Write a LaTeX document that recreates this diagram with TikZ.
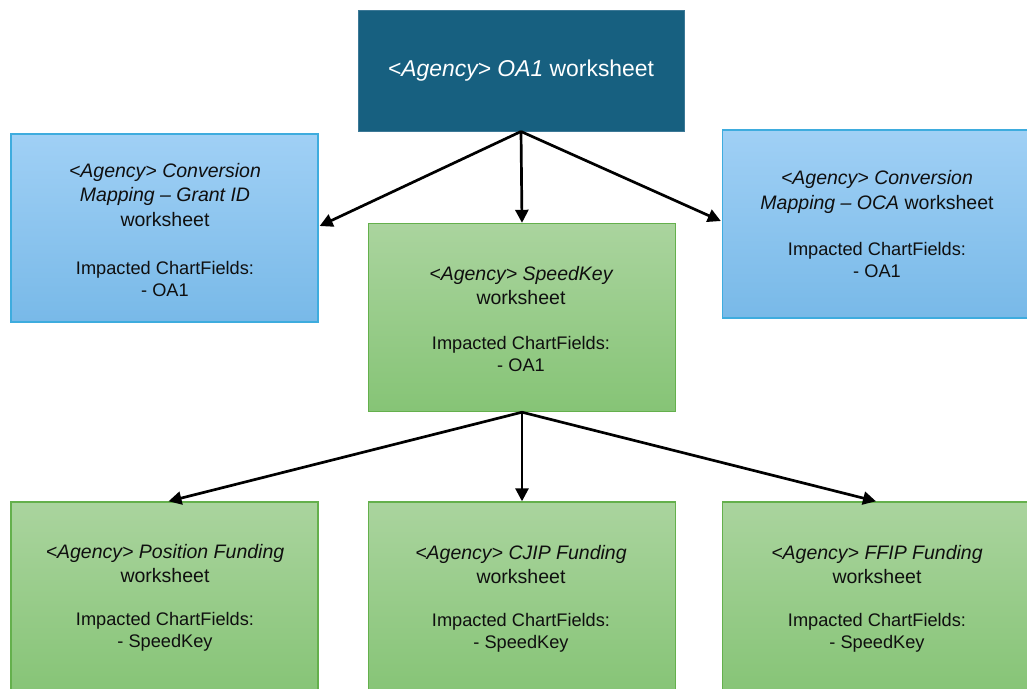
\documentclass[tikz,border=0pt]{standalone}
\usepackage{fontspec}
\setmainfont{Liberation Sans}
\usetikzlibrary{arrows.meta}
\definecolor{topfill}{RGB}{23,96,128}
\definecolor{topdraw}{RGB}{60,120,150}
\definecolor{bluetop}{RGB}{160,208,245}
\definecolor{bluebot}{RGB}{120,185,232}
\definecolor{bluedraw}{RGB}{62,172,222}
\definecolor{greentop}{RGB}{170,212,158}
\definecolor{greenbot}{RGB}{134,196,118}
\definecolor{greendraw}{RGB}{100,176,76}
\definecolor{txt}{RGB}{15,15,15}
\tikzset{
  topbox/.style={draw=topdraw, line width=1pt, fill=topfill, minimum width=326, minimum height=121, inner sep=0},
  bluebox/.style={draw=bluedraw, line width=1.4pt, top color=bluetop, bottom color=bluebot, minimum width=307, minimum height=188, inner sep=0},
  greenbox/.style={draw=greendraw, line width=1.4pt, top color=greentop, bottom color=greenbot, minimum width=307, minimum height=188, inner sep=0},
  titletext/.style={align=center, inner sep=0, text=txt, font=\fontsize{19.5}{24.5}\selectfont},
  imptext/.style={align=center, inner sep=0, text=txt, font=\fontsize{18.2}{22}\selectfont},
  conn/.style={line width=2.7pt, -{Triangle[length=13, width=13]}}
}
\begin{document}
\begin{tikzpicture}[x=1pt, y=-1pt]
\useasboundingbox (0,0) rectangle (1027,688);
% boxes
\node[topbox] (top) at (521,70.5) {};
\node[bluebox] (lb) at (164.5,228) {};
\node[bluebox] (rb) at (876,224) {};
\node[greenbox] (mg) at (522,317.5) {};
\node[greenbox, minimum height=192] (bl) at (164.5,598) {};
\node[greenbox, minimum height=192] (bm) at (522,598) {};
\node[greenbox, minimum height=192] (br) at (876,598) {};
% texts
\node[inner sep=0, text=white, font=\fontsize{22.9}{27}\selectfont] (toptxt) at (521,71) {\itshape <Agency> OA1\upshape{} worksheet};
\node[titletext] (lbt) at (165,195) {\itshape <Agency> Conversion\\ \itshape Mapping -- Grant ID\\ worksheet};
\node[imptext] (lbi) at (165,279) {Impacted ChartFields:\\- OA1};
\node[titletext] (rbt) at (877,192) {\itshape <Agency> Conversion\\ \itshape Mapping -- OCA\upshape{} worksheet};
\node[imptext] (rbi) at (877,259.5) {Impacted ChartFields:\\- OA1};
\node[titletext] (mgt) at (521,285.5) {\itshape <Agency> SpeedKey\\ worksheet};
\node[imptext] (mgi) at (521,354) {Impacted ChartFields:\\- OA1};
\node[titletext] (blt) at (165,563.5) {\itshape <Agency> Position Funding\\ worksheet};
\node[imptext] (bli) at (165,632) {Impacted ChartFields:\\- SpeedKey};
\node[titletext] (bmt) at (521,564.5) {\itshape <Agency> CJIP Funding\\ worksheet};
\node[imptext] (bmi) at (521,633) {Impacted ChartFields:\\- SpeedKey};
\node[titletext] (brt) at (877,564.5) {\itshape <Agency> FFIP Funding\\ worksheet};
\node[imptext] (bri) at (877,633) {Impacted ChartFields:\\- SpeedKey};
% connectors
\draw[conn] (top.south) -- ([shift={(1,-2)}]lb.east);
\draw[conn] (top.south) -- (mg.north);
\draw[conn] (top.south) -- ([shift={(-1,-3)}]rb.west);
\draw[conn] (mg.south) -- ([shift={(4,0)}]bl.north);
\draw[conn] (mg.south) -- (bm.north);
\draw[conn] (mg.south) -- (br.north);
\end{tikzpicture}
\end{document}
